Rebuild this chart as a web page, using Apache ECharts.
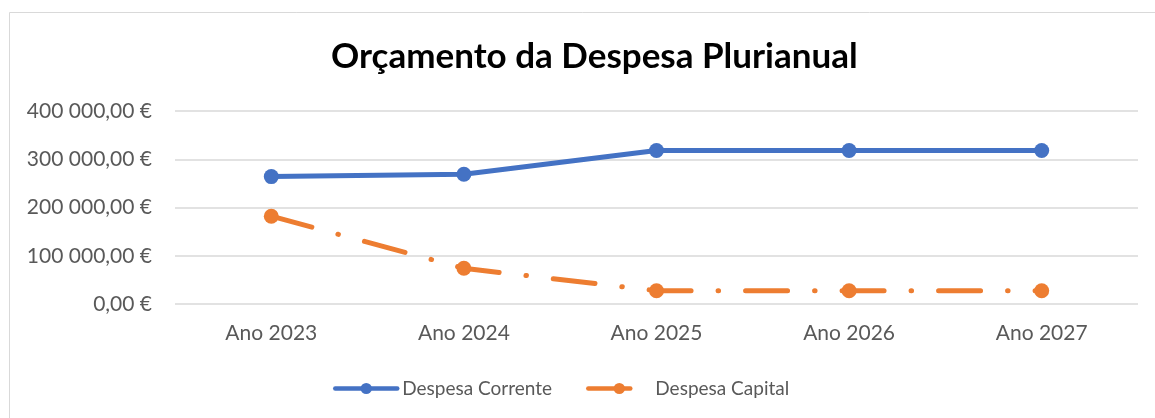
<!DOCTYPE html>
<html>
<head>
<meta charset="utf-8">
<script src="https://cdn.jsdelivr.net/npm/echarts@6/dist/echarts.min.js"></script>
<style>
  html, body { margin: 0; padding: 0; background: #fff; }
  #chart { width: 1155px; height: 418px; }
</style>
</head>
<body>
<div id="chart"></div>
<script>
const categories = ["Ano 2023", "Ano 2024", "Ano 2025", "Ano 2026", "Ano 2027"]
const despesaCorrente = [264000, 269000, 318000, 318000, 318000]
const despesaCapital = [182000, 74000, 27500, 27500, 27500]
const yTicks = { min: 0, max: 400000, interval: 100000 }

const fontFamily = "Lato, 'Open Sans', sans-serif"
const textColor = "#595959"
const blue = "#4472c4"
const orange = "#ed7d31"

// "400 000,00 €" style labels
const formatEuro = v => {
  const parts = Math.round(v).toString().replace(/\B(?=(\d{3})+(?!\d))/g, " ")
  return parts + ",00 €"
}

const chart = echarts.init(document.getElementById("chart"), null, { renderer: "canvas" })

chart.setOption({
  animation: false,
  backgroundColor: "#fff",
  textStyle: { fontFamily },
  graphic: [
    {
      type: "rect",
      shape: { x: 9.5, y: 12.5, width: 1300, height: 600 },
      style: { fill: "none", stroke: "#d9d9d9", lineWidth: 1 },
      silent: true
    }
  ],
  title: {
    text: "Orçamento da Despesa Plurianual",
    left: 326,
    top: 34,
    textStyle: { fontFamily, fontSize: 35, fontWeight: "bold", color: "#000" }
  },
  legend: {
    top: 374,
    left: 328,
    itemWidth: 62,
    itemHeight: 14,
    itemGap: 34,
    textStyle: { fontFamily, fontSize: 19, color: textColor },
    data: [
      { name: "Despesa Corrente", lineStyle: { width: 4.5 } },
      { name: "Despesa Capital", lineStyle: { width: 4.5 } }
    ]
  },
  grid: { left: 175, right: 17, top: 111, bottom: 114 },
  xAxis: {
    type: "category",
    data: categories,
    boundaryGap: true,
    axisLine: { show: false },
    axisTick: { show: false },
    axisLabel: { color: textColor, fontSize: 21, margin: 19, fontFamily }
  },
  yAxis: {
    type: "value",
    min: yTicks.min,
    max: yTicks.max,
    interval: yTicks.interval,
    axisLine: { show: false },
    axisTick: { show: false },
    splitLine: { lineStyle: { color: "#d9d9d9", width: 1.5 } },
    axisLabel: { color: textColor, fontSize: 21, margin: 23, formatter: formatEuro, fontFamily }
  },
  series: [
    {
      name: "Despesa Corrente",
      type: "line",
      data: despesaCorrente,
      symbol: "circle",
      symbolSize: 15,
      color: blue,
      lineStyle: { width: 5, color: blue, cap: "round" },
      itemStyle: { color: blue }
    },
    {
      name: "Despesa Capital",
      type: "line",
      data: despesaCapital,
      symbol: "circle",
      symbolSize: 15,
      color: orange,
      lineStyle: { width: 5, color: orange, cap: "round", type: [42, 27, 0.5, 27] },
      itemStyle: { color: orange }
    }
  ]
})
</script>
</body>
</html>
